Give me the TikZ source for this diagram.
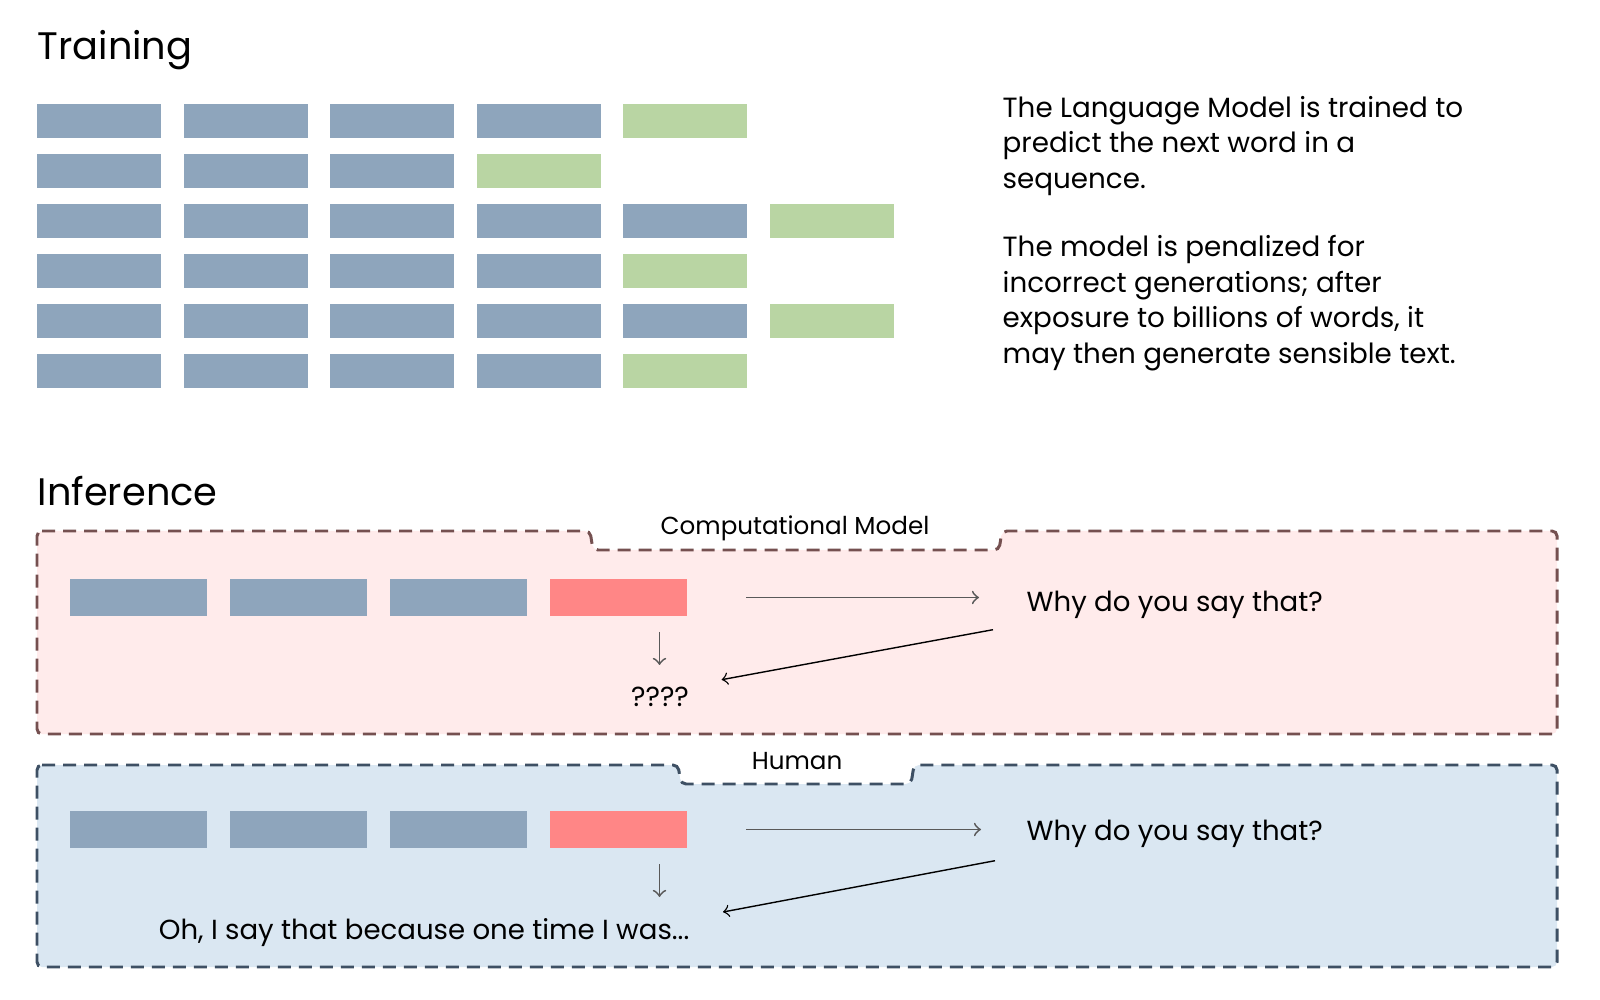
\documentclass[tikz,border=0pt]{standalone}
\usepackage{fontspec}
\setmainfont{Poppins}
\usepackage{tikz}
\usetikzlibrary{arrows, positioning}
\definecolor{token-blue}{RGB}{142,165,188}
\definecolor{token-green}{RGB}{185,213,163}
\definecolor{token-red}{RGB}{255,134,134}
\definecolor{model-bg}{RGB}{255,235,235}
\definecolor{model-line}{RGB}{117,80,80}
\definecolor{human-bg}{RGB}{218,231,242}
\definecolor{human-line}{RGB}{62,80,100}

\begin{document}
\begin{tikzpicture}[
    node distance=0.225cm,
    heading/.style={font=\fontsize{10.9}{13}\selectfont, inner sep=0pt, anchor=base west},
    desc/.style={font=\fontsize{7.9}{10.1}\selectfont, inner sep=0pt, align=left, anchor=base west},
    token/.style={rectangle, fill=token-blue, minimum width=1.24cm, minimum height=0.34cm, inner sep=0pt, outer sep=0pt},
    target/.style={token, fill=token-green},
    word/.style={rectangle, fill=token-blue, minimum width=1.37cm, minimum height=0.37cm, inner sep=0pt, outer sep=0pt},
    probe/.style={word, fill=token-red},
    frame/.style={line width=0.85pt, dash pattern=on 0.13cm off 0.08cm, rounded corners=0.05cm},
    frametitle/.style={font=\fontsize{7}{8}\selectfont, inner sep=0pt, anchor=base},
    speech/.style={font=\fontsize{7.85}{10}\selectfont, inner sep=0pt},
    link/.style={->, line width=0.5pt, draw=black!65},
    reply/.style={->, thin, draw=black},
]
\useasboundingbox (0,0) rectangle (16,-10);

% Training
\node[heading] (train) at (0.37,-0.60) {Training};

\node[token, anchor=north west] (t1a) at (0.37,-1.04) {};
\node[token, right=of t1a] (t1b) {}; \node[token, right=of t1b] (t1c) {};
\node[token, right=of t1c] (t1d) {}; \node[target, right=of t1d] (t1e) {};

\node[token, below=0.16cm of t1a] (t2a) {}; \node[token, right=of t2a] (t2b) {};
\node[token, right=of t2b] (t2c) {}; \node[target, right=of t2c] (t2d) {};

\node[token, below=0.16cm of t2a] (t3a) {}; \node[token, right=of t3a] (t3b) {};
\node[token, right=of t3b] (t3c) {}; \node[token, right=of t3c] (t3d) {};
\node[token, right=of t3d] (t3e) {}; \node[target, right=of t3e] (t3f) {};

\node[token, below=0.16cm of t3a] (t4a) {}; \node[token, right=of t4a] (t4b) {};
\node[token, right=of t4b] (t4c) {}; \node[token, right=of t4c] (t4d) {};
\node[target, right=of t4d] (t4e) {};

\node[token, below=0.16cm of t4a] (t5a) {}; \node[token, right=of t5a] (t5b) {};
\node[token, right=of t5b] (t5c) {}; \node[token, right=of t5c] (t5d) {};
\node[token, right=of t5d] (t5e) {}; \node[target, right=of t5e] (t5f) {};

\node[token, below=0.16cm of t5a] (t6a) {}; \node[token, right=of t6a] (t6b) {};
\node[token, right=of t6b] (t6c) {}; \node[token, right=of t6c] (t6d) {};
\node[target, right=of t6d] (t6e) {};

% Description (anchored on the last line)
\node[desc] (about1) at (10.02,-1.883) {The Language Model is trained to\\predict the next word in a\\sequence.};
\node[desc] (about2) at (10.02,-3.633) {The model is penalized for\\incorrect generations; after\\exposure to billions of words, it\\may then generate sensible text.};

% Inference
\node[heading] (infer) at (0.37,-5.056) {Inference};

% Frames
\draw[frame, draw=model-line, fill=model-bg] (0.37,-5.31) -- (5.90,-5.31) -- (5.93,-5.50) -- (9.99,-5.50) -- (10.02,-5.31)
    -- (15.57,-5.31) -- (15.57,-7.34) -- (0.37,-7.34) -- cycle;
\draw[frame, draw=human-line, fill=human-bg] (0.37,-7.65) -- (6.78,-7.65) -- (6.81,-7.84) -- (9.11,-7.84) -- (9.14,-7.65)
    -- (15.57,-7.65) -- (15.57,-9.67) -- (0.37,-9.67) -- cycle;
\node[frametitle] (mlabel) at (7.95,-5.35) {Computational Model};
\node[frametitle] (hlabel) at (7.97,-7.69) {Human};

% Computational model
\node[word, anchor=north west] (m1) at (0.70,-5.79) {};
\node[word, right=0.23cm of m1] (m2) {};
\node[word, right=0.23cm of m2] (m3) {};
\node[probe, right=0.23cm of m3] (m4) {};
\node[speech, anchor=base west] (mwhy) at (10.26,-6.117) {Why do you say that?};
\node[speech, anchor=base] (mq) at (6.60,-7.067) {????};

\draw[link] (m4.east) -- (m4.east -| mwhy.west) [shorten <=0.59cm, shorten >=0.47cm];
\draw[link] ([xshift=0.41cm,yshift=-0.16cm]m4.south) -- ([xshift=0.41cm,yshift=-0.49cm]m4.south);
\draw[reply] ([xshift=-0.33cm,yshift=-0.18cm]mwhy.base west) -- ([xshift=0.32cm,yshift=0.27cm]mq.base east);

% Human
\node[word, below=1.95cm of m1] (h1) {};
\node[word, right=0.23cm of h1] (h2) {};
\node[word, right=0.23cm of h2] (h3) {};
\node[probe, right=0.23cm of h3] (h4) {};
\node[speech, anchor=base west] (hwhy) at (10.26,-8.407) {Why do you say that?};
\node[speech, anchor=base east] (hans) at (6.90,-9.39) {Oh, I say that because one time I was...};

\draw[link] (h4.east) -- (h4.east -| hwhy.west) [shorten <=0.59cm, shorten >=0.45cm];
\draw[link] ([xshift=0.41cm,yshift=-0.16cm]h4.south) -- ([xshift=0.41cm,yshift=-0.49cm]h4.south);
\draw[reply] ([xshift=-0.31cm,yshift=-0.20cm]hwhy.base west) -- ([xshift=0.33cm,yshift=0.27cm]hans.base east);

\end{tikzpicture}
\end{document}
